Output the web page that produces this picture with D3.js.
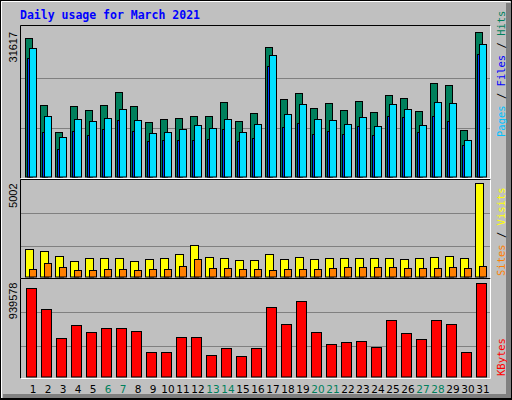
<!DOCTYPE html>
<html><head><meta charset="utf-8">
<script src="https://cdn.jsdelivr.net/npm/d3@7"></script>
<style>body{margin:0;background:#fff}</style></head>
<body><svg id="c" width="512" height="400"></svg>
<script>
const days = d3.range(1, 32);
const weekend = [6,7,13,14,20,21,27,28];
const hits = [30332,15701,9778,15487,14631,15701,18556,15487,11847,12561,12775,13203,13203,16201,12133,13846,28405,16843,18342,14916,15987,14488,16415,14060,17914,17057,14274,20483,20055,10206,31617];
const files = [28191,13132,8707,12561,12133,12775,14702,12347,9492,9778,10420,11276,10634,12561,9778,11491,26478,13632,15773,12561,12347,11491,12989,11062,15773,14702,11276,16201,15987,8065,28976];
const pages = [25836,9778,6066,9992,9135,10420,12347,9992,7851,8065,8065,8065,8279,10420,7851,8493,24123,10848,11705,9349,9992,9349,11062,9135,13203,12989,9778,13203,12133,6780,26835];
const visits = [1481,1372,1102,831,993,993,993,831,939,993,1210,1698,1047,993,885,885,1210,939,1047,939,993,993,993,993,993,939,993,1047,1102,993,5002];
const sites = [397,722,506,343,343,397,397,343,397,397,560,939,452,452,397,397,343,397,397,397,452,506,506,506,506,452,452,452,506,452,560];
const kbytes = [888111,672084,384048,517779,445770,486918,486918,456057,240030,240030,394335,394335,219456,281178,209169,281178,692658,528066,754380,445770,322326,342900,353187,291465,569214,435483,373761,569214,528066,240030,939578];

const svg = d3.select("#c");
svg.append("rect").attr("x",0).attr("y",0).attr("width",512).attr("height",400).attr("fill","#C0C0C0");
// bevel
svg.append("rect").attr("x",0.5).attr("y",0.5).attr("width",511).attr("height",399).attr("fill","none").attr("stroke","#000");
svg.append("path").attr("d","M1.5,398V1.5H510").attr("stroke","#fff").attr("stroke-width",1).attr("fill","none");
svg.append("path").attr("d","M506,3H511V399H3V394H506Z").attr("fill","#808080");
svg.append("path").attr("d","M1,398.5H511").attr("stroke","#000");

svg.append("text").attr("x",20).attr("y",19).text("Daily usage for March 2021")
  .attr("font-family","DejaVu Sans Mono").attr("font-weight","bold").attr("font-size","11.5px").attr("fill","#0000FF");

const x = d3.scaleBand().domain(days).range([25,490]).paddingInner(0).paddingOuter(0);
const xOff = d => x(d);

function panel(y0, y1, maxV, fracs, label) {
  svg.append("rect").attr("x",20.5).attr("y",y0+0.5).attr("width",470).attr("height",y1-y0).attr("fill","#C0C0C0");
  const y = d3.scaleLinear().domain([0,maxV]).range([y1-1.5, y0+ (y1-y0)*0.045]);
  fracs.forEach(f => svg.append("line").attr("x1",21).attr("x2",490).attr("y1",Math.round(y(maxV*f))+0.5).attr("y2",Math.round(y(maxV*f))+0.5).attr("stroke","#808080"));
  svg.append("path").attr("d",`M20.5,${y1+0.5}V${y0+0.5}H490.5`).attr("stroke","#000").attr("fill","none");
  svg.append("path").attr("d",`M490.5,${y0+0.5}V${y1+0.5}H20.5`).attr("stroke","#fff").attr("fill","none");
  svg.append("text").attr("transform",`translate(17,${y(maxV)}) rotate(-90)`).attr("text-anchor","end")
    .attr("font-family","Liberation Sans, DejaVu Sans").attr("font-size","11px").text(label);
  return y;
}
function bars(y, data, dx, w, color) {
  svg.append("g").selectAll("rect").data(data).join("rect")
    .attr("x",(d,i)=>xOff(days[i])+dx+0.5).attr("y",d=>Math.round(y(d))+0.5)
    .attr("width",w).attr("height",d=>Math.max(0,y(0)-Math.round(y(d))))
    .attr("fill",color).attr("stroke","#000");
}
const y1 = panel(25,178,31617,[1/3,0.68],"31617");
bars(y1,hits,0,7,"#00805C");
bars(y1,pages,2,2.5,"#0040FF");
bars(y1,files,4,7,"#00E0FF");
const y2 = panel(179,278,5002,[0.33,0.687],"5002");
bars(y2,visits,0,8,"#FFFF00");
bars(y2,sites,4,7,"#FF8000");
const y3 = panel(278,378,939578,[0.322,0.683],"939578");
bars(y3,kbytes,1,10,"#FF0000");

svg.append("g").selectAll("text").data(days).join("text")
  .attr("x",d=>x(d)+8).attr("y",393).attr("text-anchor","middle")
  .attr("font-family","DejaVu Sans").attr("font-size","10.5px")
  .attr("fill",d=>weekend.includes(d)?"#00805C":"#000").text(d=>d);

function rlabel(yBottom, parts) {
  const t = svg.append("text").attr("transform",`translate(505,${yBottom}) rotate(-90)`)
    .attr("font-family","DejaVu Sans Mono").attr("font-size","10.5px");
  parts.forEach(p => t.append("tspan").attr("fill",p[1]).text(p[0]));
}
rlabel(137,[["Pages","#00C0FF"],[" / ","#000"],["Files","#0000FF"],[" / ","#000"],["Hits","#00805C"]]);
rlabel(276,[["Sites","#FF8000"],[" / ","#000"],["Visits","#FFFF00"]]);
rlabel(376,[["KBytes","#FF0000"]]);
</script></body></html>
